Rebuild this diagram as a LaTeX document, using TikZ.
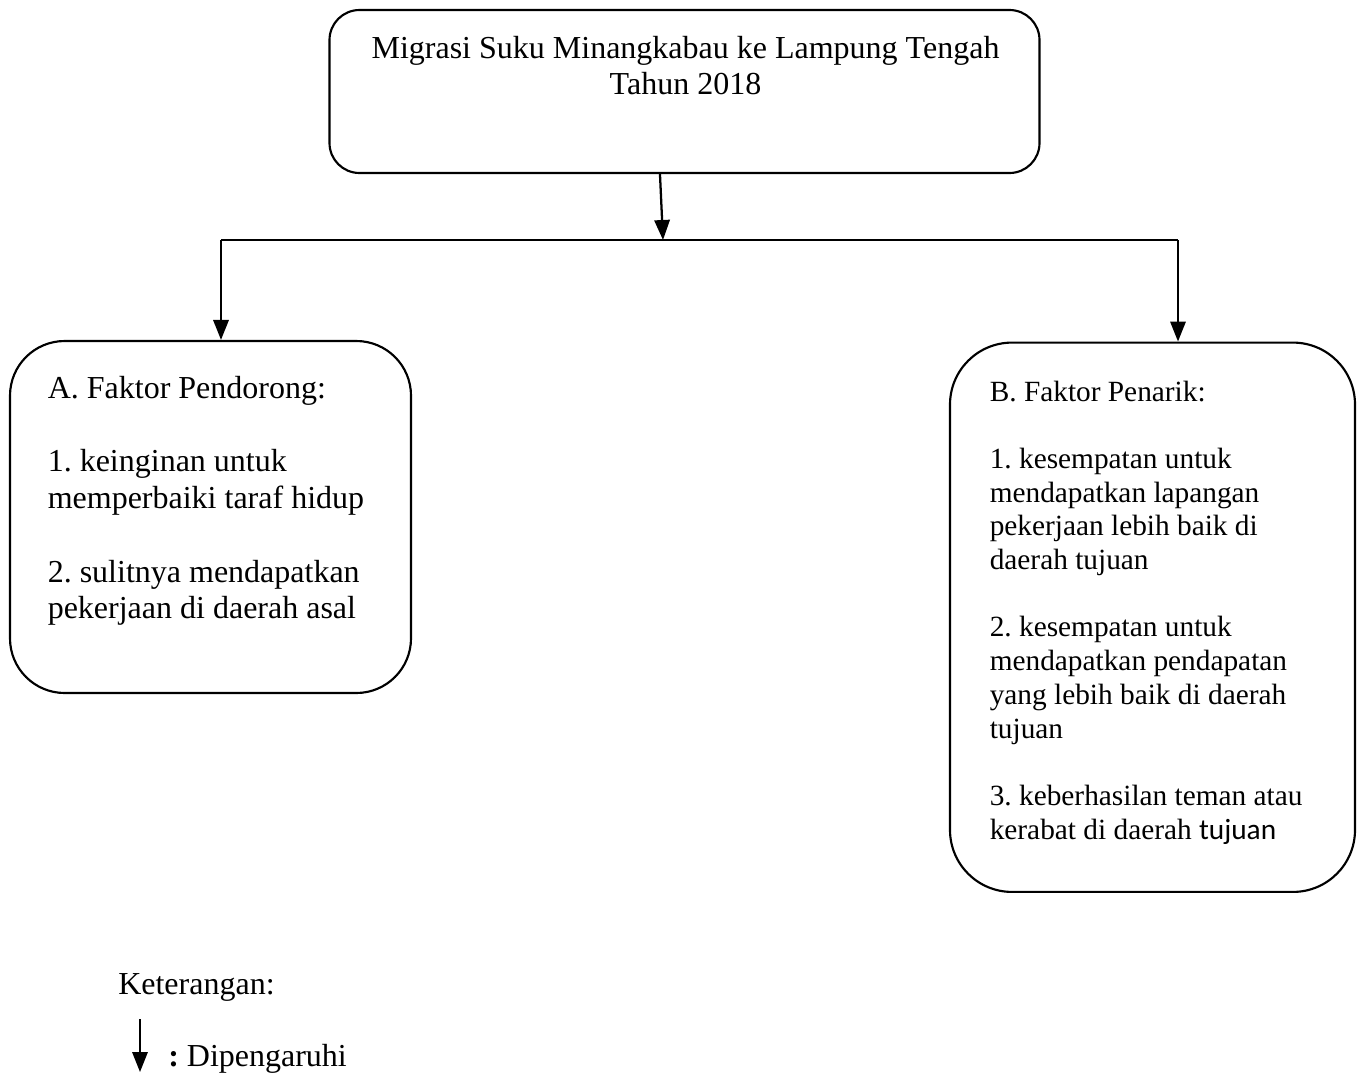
\documentclass[tikz,border=0pt]{standalone}
\usepackage{fontspec}
\setmainfont{Liberation Serif}
\newfontfamily\carlitofont{Carlito}
\usetikzlibrary{arrows.meta}
\begin{document}
\frenchspacing
\begin{tikzpicture}[x=0.75pt,y=-0.75pt,
  box/.style={draw, line width=1.6pt},
  arr/.style={line width=1.7pt, -{Triangle[width=11.5pt,length=15pt]}},
  conn/.style={line width=1.7pt},
  big/.style={anchor=base west, inner sep=0pt, font=\frenchspacing\fontsize{24pt}{27.6pt}\selectfont},
  small/.style={anchor=base west, inner sep=0pt, font=\frenchspacing\fontsize{22pt}{25.3pt}\selectfont},
  ttl/.style={anchor=base, inner sep=0pt, font=\frenchspacing\fontsize{24pt}{27.6pt}\selectfont}]
\useasboundingbox (0,0) rectangle (1360,1072);

% boxes
\node[box, rounded corners=22.5pt, minimum width=532.5pt, minimum height=122.25pt] (top) at (684.5,91.5) {};
\node[box, rounded corners=41pt, minimum width=300.75pt, minimum height=264pt] (lb) at (210.5,517) {};
\node[box, rounded corners=46.5pt, minimum width=303.75pt, minimum height=412pt] (rb) at (1152.5,617.25) {};

% title
\node[ttl] (t1) at (685.5,58) {Migrasi Suku Minangkabau ke Lampung Tengah};
\node[ttl] (t2) at (685.5,94.7) {Tahun 2018};

% left text
\node[big] (l0) at (47.5,398) {A. Faktor Pendorong:};
\node[big] (l1) at (47.5,471.6) {1. keinginan untuk};
\node[big] (l2) at (47.5,508.4) {memperbaiki taraf hidup};
\node[big] (l3) at (47.5,582) {2. sulitnya mendapatkan};
\node[big] (l4) at (47.5,618.8) {pekerjaan di daerah asal};

% right text
\node[small] (r0) at (989.5,401) {B. Faktor Penarik:};
\node[small] (r1) at (989.5,468.4) {1. kesempatan untuk};
\node[small] (r2) at (989.5,502.1) {mendapatkan lapangan};
\node[small] (r3) at (989.5,535.8) {pekerjaan lebih baik di};
\node[small] (r4) at (989.5,569.5) {daerah tujuan};
\node[small] (r5) at (989.5,636.9) {2. kesempatan untuk};
\node[small] (r6) at (989.5,670.6) {mendapatkan pendapatan};
\node[small] (r7) at (989.5,704.3) {yang lebih baik di daerah};
\node[small] (r8) at (989.5,738) {tujuan};
\node[small] (r9) at (989.5,805.4) {3. keberhasilan teman atau};
\node[small] (r10) at (989.5,839.1) {kerabat di daerah {\carlitofont tujuan}};

% connectors
\coordinate (j) at (663,240);
\coordinate (jl) at (221,240);
\coordinate (jr) at (1178,240);
\draw[arr] ([xshift=-18.4pt]top.south) -- (j);
\draw[conn] (jl) -- (jr);
\draw[arr] (jl) -- (jl |- lb.north);
\draw[arr] (jr) -- (jr |- rb.north);

% legend
\node[big] (k) at (118,994) {Keterangan:};
\coordinate (la) at (140,1019);
\coordinate (lt) at (140,1072);
\draw[arr] (la) -- (lt);
\node[big] (d) at (168,1066) {\textbf{:} Dipengaruhi};
\end{tikzpicture}
\end{document}
